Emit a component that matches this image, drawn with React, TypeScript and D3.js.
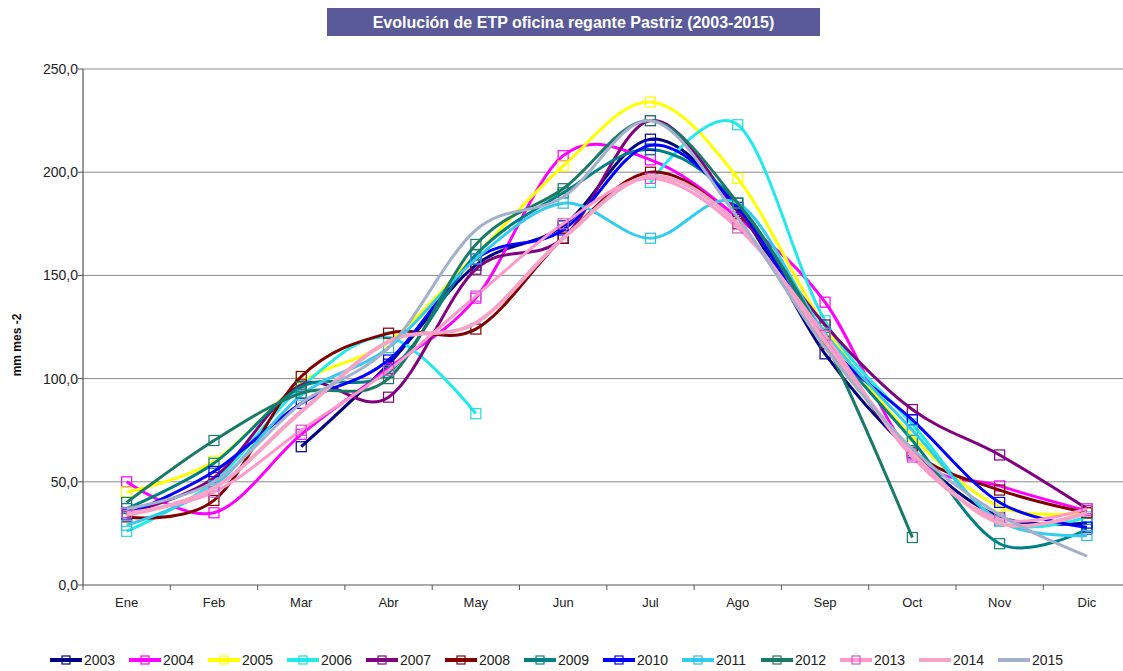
import React from "react";
import * as d3 from "d3";

const months = ["Ene", "Feb", "Mar", "Abr", "May", "Jun", "Jul", "Ago", "Sep", "Oct", "Nov", "Dic"];
const yTicks = [0, 50, 100, 150, 200, 250];

const s2003 = [null, null, 67, 107, 155, 174, 216, 182, 112, 64, 33, 30];
const s2004 = [50, 35, 73, 105, 139, 208, 206, 178, 137, 63, 48, 36];
const s2005 = [45, 60, 98, 118, 160, 203, 234, 197, 125, 72, 38, 35];
const s2006 = [26, 50, 96, 120, 83, null, 195, 223, 128, 78, 31, 33];
const s2007 = [35, 52, 97, 91, 153, 168, 225, 181, 126, 85, 63, 37];
const s2008 = [33, 41, 101, 122, 124, 168, 200, 175, 117, 65, 46, 35];
const s2009 = [37, 59, 96, 103, 160, 190, 211, 185, 120, 70, 20, 27];
const s2010 = [34, 55, 88, 109, 158, 172, 213, 183, 118, 80, 40, 28];
const s2011 = [29, 48, 92, 115, 158, 185, 168, 185, 122, 75, 31, 24];
const s2012 = [40, 70, 93, 100, 165, 192, 225, 185, 118, 23, null, null];
const s2013 = [35, 45, 75, 104, 140, 175, 197, 173, 121, 62, 32, 37];
const s2014 = [34, 47, 84, 118, 127, 168, 198, 175, 118, 64, 30, 35];
const s2015 = [37, 50, 88, 115, 172, 188, 225, 178, 115, 66, 34, 14];

const years = ["2003", "2004", "2005", "2006", "2007", "2008", "2009", "2010", "2011", "2012", "2013", "2014", "2015"];
const seriesValues = [s2003, s2004, s2005, s2006, s2007, s2008, s2009, s2010, s2011, s2012, s2013, s2014, s2015];
const colors = ["#000080", "#FF00FF", "#FFFF00", "#22EAEA", "#800080", "#800000", "#008080", "#0000FF", "#33CCEE", "#1A7A66", "#FF99CC", "#F7A3C6", "#A3B0CC"];
const markerColors = ["#000080", "#FF00FF", "#FFFF00", "#22DADA", "#800080", "#800000", "#008080", "#0000FF", "#33BBDD", "#1A7A66", "#CC55CC", null, null];

export default function App() {
  const W = 1123, H = 671;
  const left = 83, top = 69, bottom = 585;
  const step = 87.3;
  const x = d3.scaleBand<string>().domain(months).range([left, left + step * 12]);
  const y = d3.scaleLinear().domain([0, 250]).range([bottom, top]);
  const cx = (m: string) => (x(m) as number) + x.bandwidth() / 2;
  const line = d3
    .line<number | null>()
    .defined((d) => d !== null)
    .x((_, i) => cx(months[i]))
    .y((d) => y(d as number))
    .curve(d3.curveCardinal.tension(0));
  const fmt = (v: number) => v.toFixed(1).replace(".", ",");
  const font = "'Liberation Sans', Arial, sans-serif";
  const title = "Evolución de ETP oficina regante Pastriz (2003-2015)";
  const legStep = 79;
  const legX0 = 50;

  return (
    <svg width={W} height={H} style={{ position: "absolute", left: 0, top: 0, background: "#fff" }} fontFamily={font}>
      <rect x={327} y={8} width={493} height={28} fill="#5A5A98" />
      <text x={573.5} y={28} textAnchor="middle" fill="#fff" fontWeight="bold" fontSize={16}>{title}</text>

      {yTicks.map((t) => (
        <g key={t}>
          {t > 0 && <line x1={left} x2={W} y1={y(t)} y2={y(t)} stroke="#8a8a8a" strokeWidth={1} />}
          <line x1={left - 5} x2={left} y1={y(t)} y2={y(t)} stroke="#555" />
          <text x={78} y={y(t) + 5} textAnchor="end" fontSize={14} fill="#222">{fmt(t)}</text>
        </g>
      ))}
      <line x1={left} x2={left} y1={top} y2={bottom} stroke="#555" strokeWidth={1.2} />
      <line x1={left} x2={W} y1={bottom} y2={bottom} stroke="#555" strokeWidth={1.2} />
      {d3.range(13).map((i) => (
        <line key={i} x1={left + i * step} x2={left + i * step} y1={bottom} y2={bottom + 5} stroke="#555" />
      ))}
      {months.map((m) => (
        <text key={m} x={cx(m)} y={607} textAnchor="middle" fontSize={13} fill="#222">{m}</text>
      ))}
      <text transform={`translate(21,${345}) rotate(-90)`} textAnchor="middle" fontSize={12} fontWeight="bold" fill="#111">mm mes -2</text>

      {seriesValues.map((vals, si) => (
        <g key={years[si]}>
          <path d={line(vals) || ""} fill="none" stroke={colors[si]} strokeWidth={si === 11 ? 4 : 3} strokeLinejoin="round" />
          {markerColors[si] &&
            vals.map((v, i) =>
              v === null ? null : (
                <rect key={i} x={cx(months[i]) - 5} y={y(v) - 5} width={10} height={10} fill="none" stroke={markerColors[si] as string} strokeWidth={1.2} />
              )
            )}
        </g>
      ))}

      {years.map((yr, i) => {
        const lx = legX0 + i * legStep;
        return (
          <g key={yr}>
            <line x1={lx} x2={lx + 32} y1={660} y2={660} stroke={colors[i]} strokeWidth={4} />
            {markerColors[i] && <rect x={lx + 12} y={656} width={8} height={8} fill="none" stroke={markerColors[i] as string} strokeWidth={1.2} />}
            <text x={lx + 34} y={665} fontSize={14} fill="#222">{yr}</text>
          </g>
        );
      })}
    </svg>
  );
}
